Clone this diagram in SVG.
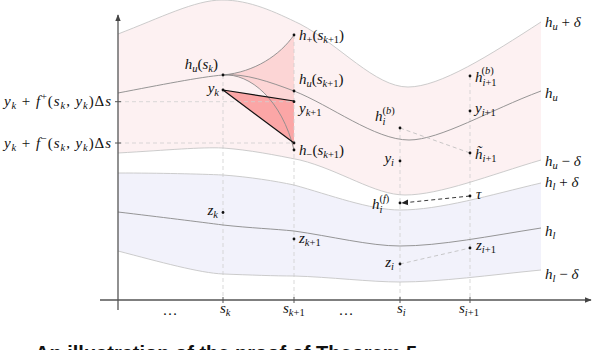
<svg xmlns="http://www.w3.org/2000/svg" width="594" height="350" viewBox="0 0 594 350">
<defs>
<style>
.m{font-family:"Liberation Serif","DejaVu Serif",serif;font-style:italic;font-size:15px;fill:#111}
.r{font-style:normal}
.sb{font-size:10.5px}
.dv{stroke:#cfcfcf;stroke-width:0.8;stroke-dasharray:4 3;fill:none}
.dd{stroke:#bbb;stroke-width:0.8;stroke-dasharray:4 3;fill:none}
.c1{stroke:#8a8a8a;stroke-width:0.9;fill:none}
.c2{stroke:#c6c6c6;stroke-width:0.9;fill:none}
.dot{fill:#111}
.cap{font-family:"Liberation Sans",Arial,sans-serif;font-weight:bold;font-size:20px;fill:#111}
</style>
<marker id="ah" viewBox="0 0 10 10" refX="9" refY="5" markerWidth="7" markerHeight="7" orient="auto-start-reverse" markerUnits="userSpaceOnUse"><path d="M0,1 L10,5 L0,9 z" fill="#222"/></marker>
<marker id="ax" viewBox="0 0 10 10" refX="9" refY="5" markerWidth="7" markerHeight="7" orient="auto" markerUnits="userSpaceOnUse"><path d="M0,1 L10,5 L0,9 z" fill="#444"/></marker>
</defs>
<rect width="594" height="350" fill="#fff"/>

<g id="bands">
<path d="M118,34 C160,18 195,0 222,0 C250,0 275,12 300,24 C340,45 375,87 408,87 C440,87 490,55 541,22 L541,160 C490,175 440,195 405,195 C375,195 340,170 300,160 C275,155 250,150 223,148 C200,147 170,150 118,153 Z" fill="#fdf1f2"/>
<path d="M118,173 C160,173 200,174 223,175 C250,177 275,181 294,185 C330,195 370,210 400,210 C440,210 490,195 541,183 L541,270 C490,275 440,282 400,282 C370,282 330,277 294,276 C275,276 250,275 223,274 C200,273 160,262 118,251 Z" fill="#f2f2fb"/>
<path d="M223,75 C255,72 280,55 294,35 L294,150 C282,100 250,73 223,75 Z" fill="#fcd5d5"/>
<path d="M223,90 L294,101 L294,143 Z" fill="#fba6a6"/>
</g>

<g id="connectors">
<path class="dv" d="M223,75 V300 M294,35 V300 M400,128 V300 M470,76 V300"/>
<path class="dv" d="M118,101.7 H294 M118,143 H294"/>
<path class="c2" d="M118,34 C160,18 195,0 222,0 C250,0 275,12 300,24 C340,45 375,87 408,87 C440,87 490,55 541,22"/>
<path class="c1" d="M118,93 C160,85 200,77 223,75 C245,73 270,82 294,91 C330,105 375,140 409,140 C440,140 490,110 541,91"/>
<path class="c2" d="M118,153 C170,150 200,147 223,148 C250,150 275,155 300,160 C340,170 375,195 405,195 C440,195 490,175 541,160"/>
<path class="c2" d="M118,173 C160,173 200,174 223,175 C250,177 275,181 294,185 C330,195 370,210 400,210 C440,210 490,195 541,183"/>
<path class="c1" d="M118,212 C160,217 200,222 223,225 C250,228 275,229 294,231 C330,236 370,246 400,246 C440,246 490,236 541,228"/>
<path class="c2" d="M118,251 C160,262 200,273 223,274 C250,275 275,276 294,276 C330,277 370,282 400,282 C440,282 490,275 541,270"/>
<path class="c1" d="M223,75 C255,72 280,55 294,35"/>
<path class="c1" d="M223,75 C250,73 282,100 294,150"/>
<path d="M223,90 L294,101 M223,90 L294,143" stroke="#111" stroke-width="1.2" fill="none"/>
<path class="dd" d="M400,128 L470,153 M400,264 L470,248"/>
<path d="M470,196 L402,203" stroke="#222" stroke-width="0.9" stroke-dasharray="4 3" fill="none" marker-end="url(#ah)"/>
<path d="M118,310 V15" stroke="#555" stroke-width="1.3" marker-end="url(#ax)"/>
<path d="M100,300 H591" stroke="#555" stroke-width="1.3" marker-end="url(#ax)"/>
<path d="M223,297 V303 M294,297 V303 M400,297 V303 M470,297 V303 M115,101.7 H121 M115,143 H121" stroke="#555" stroke-width="1"/>
</g>

<g id="curve-labels">
<text class="m" x="545" y="27">h<tspan class="sb" dy="3">u</tspan><tspan class="r" dy="-3"> + </tspan>δ</text>
<text class="m" x="545" y="98">h<tspan class="sb" dy="3">u</tspan></text>
<text class="m" x="545" y="166">h<tspan class="sb" dy="3">u</tspan><tspan class="r" dy="-3"> − </tspan>δ</text>
<text class="m" x="545" y="187">h<tspan class="sb" dy="3">l</tspan><tspan class="r" dy="-3"> + </tspan>δ</text>
<text class="m" x="545" y="236">h<tspan class="sb" dy="3">l</tspan></text>
<text class="m" x="545" y="279">h<tspan class="sb" dy="3">l</tspan><tspan class="r" dy="-3"> − </tspan>δ</text>
</g>

<g id="axis-labels">
<text class="m" x="4" y="106" textLength="107" lengthAdjust="spacing">y<tspan class="sb" dy="3">k</tspan><tspan class="r" dy="-3"> + </tspan>f<tspan class="sb r" dy="-6">+</tspan><tspan class="r" dy="6">(</tspan>s<tspan class="sb" dy="3">k</tspan><tspan class="r" dy="-3">, </tspan>y<tspan class="sb" dy="3">k</tspan><tspan class="r" dy="-3">)Δ</tspan>s</text>
<text class="m" x="4" y="147.5" textLength="107" lengthAdjust="spacing">y<tspan class="sb" dy="3">k</tspan><tspan class="r" dy="-3"> + </tspan>f<tspan class="sb r" dy="-6">−</tspan><tspan class="r" dy="6">(</tspan>s<tspan class="sb" dy="3">k</tspan><tspan class="r" dy="-3">, </tspan>y<tspan class="sb" dy="3">k</tspan><tspan class="r" dy="-3">)Δ</tspan>s</text>
<text class="m" x="220" y="313">s<tspan class="sb" dy="3">k</tspan></text>
<text class="m" x="283" y="313">s<tspan class="sb" dy="3">k<tspan class="r">+1</tspan></tspan></text>
<text class="m" x="397" y="313">s<tspan class="sb" dy="3">i</tspan></text>
<text class="m" x="459" y="313">s<tspan class="sb" dy="3">i<tspan class="r">+1</tspan></tspan></text>
<text class="m r" x="170" y="315" text-anchor="middle">…</text>
<text class="m r" x="346" y="315" text-anchor="middle">…</text>
</g>

<g id="node-hu-sk"><circle class="dot" cx="223" cy="75" r="1.4"/><text class="m" x="218" y="69" text-anchor="end">h<tspan class="sb" dy="3">u</tspan><tspan class="r" dy="-3">(</tspan>s<tspan class="sb" dy="3">k</tspan><tspan class="r" dy="-3">)</tspan></text></g>
<g id="node-yk"><circle class="dot" cx="223" cy="90" r="1.4"/><text class="m" x="219" y="93" text-anchor="end">y<tspan class="sb" dy="3">k</tspan></text></g>
<g id="node-hplus"><circle class="dot" cx="294" cy="35" r="1.4"/><text class="m" x="299" y="40">h<tspan class="sb r" dy="3">+</tspan><tspan class="r" dy="-3">(</tspan>s<tspan class="sb" dy="3">k<tspan class="r">+1</tspan></tspan><tspan class="r" dy="-3">)</tspan></text></g>
<g id="node-hu-sk1"><circle class="dot" cx="294" cy="91" r="1.4"/><text class="m" x="299" y="84">h<tspan class="sb" dy="3">u</tspan><tspan class="r" dy="-3">(</tspan>s<tspan class="sb" dy="3">k<tspan class="r">+1</tspan></tspan><tspan class="r" dy="-3">)</tspan></text></g>
<g id="node-yk1"><circle class="dot" cx="294" cy="101.7" r="1.4"/><text class="m" x="299" y="113">y<tspan class="sb" dy="3">k<tspan class="r">+1</tspan></tspan></text></g>
<g id="node-hminus"><circle class="dot" cx="294" cy="143" r="1.4"/><circle class="dot" cx="294" cy="150" r="1.4"/><text class="m" x="299" y="155">h<tspan class="sb r" dy="3">−</tspan><tspan class="r" dy="-3">(</tspan>s<tspan class="sb" dy="3">k<tspan class="r">+1</tspan></tspan><tspan class="r" dy="-3">)</tspan></text></g>
<g id="node-hib"><circle class="dot" cx="400" cy="128" r="1.4"/><text class="m" x="375" y="121">h<tspan class="sb" dy="4">i</tspan><tspan class="sb r" dx="-3" dy="-11">(</tspan><tspan class="sb">b</tspan><tspan class="sb r">)</tspan></text></g>
<g id="node-yi"><circle class="dot" cx="400" cy="161" r="1.4"/><text class="m" x="394" y="163" text-anchor="end">y<tspan class="sb" dy="3">i</tspan></text></g>
<g id="node-hib1"><circle class="dot" cx="470" cy="76" r="1.4"/><text class="m" x="475" y="82">h<tspan class="sb" dy="4">i<tspan class="r">+1</tspan></tspan><tspan class="sb r" dx="-15" dy="-12">(</tspan><tspan class="sb">b</tspan><tspan class="sb r">)</tspan></text></g>
<g id="node-yi1"><circle class="dot" cx="470" cy="111" r="1.4"/><text class="m" x="475" y="113">y<tspan class="sb" dy="3">i<tspan class="r">+1</tspan></tspan></text></g>
<g id="node-htilde"><circle class="dot" cx="470" cy="153" r="1.4"/><text class="m" x="475" y="159">h̃<tspan class="sb" dy="3">i<tspan class="r">+1</tspan></tspan></text></g>
<g id="node-hif"><circle class="dot" cx="400" cy="203" r="1.4"/><text class="m" x="372" y="209">h<tspan class="sb" dy="4">i</tspan><tspan class="sb r" dx="-3" dy="-11">(</tspan><tspan class="sb">f</tspan><tspan class="sb r">)</tspan></text></g>
<g id="node-tau"><circle class="dot" cx="470" cy="196" r="1.4"/><text class="m" x="476" y="199">τ</text></g>
<g id="node-zk"><circle class="dot" cx="223" cy="212.5" r="1.4"/><text class="m" x="218" y="215" text-anchor="end">z<tspan class="sb" dy="3">k</tspan></text></g>
<g id="node-zk1"><circle class="dot" cx="294" cy="239" r="1.4"/><text class="m" x="299" y="243">z<tspan class="sb" dy="3">k<tspan class="r">+1</tspan></tspan></text></g>
<g id="node-zi"><circle class="dot" cx="400" cy="264" r="1.4"/><text class="m" x="394" y="267" text-anchor="end">z<tspan class="sb" dy="3">i</tspan></text></g>
<g id="node-zi1"><circle class="dot" cx="470" cy="248" r="1.4"/><text class="m" x="476" y="250">z<tspan class="sb" dy="3">i<tspan class="r">+1</tspan></tspan></text></g>

<text class="cap" x="35" y="360">An illustration of the proof of Theorem 5</text>
</svg>
